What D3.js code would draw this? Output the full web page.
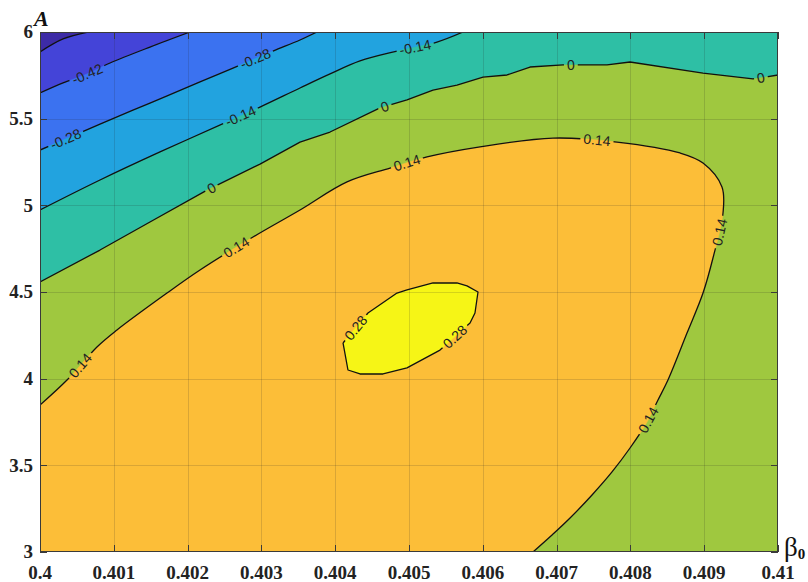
<!DOCTYPE html>
<html>
<head>
<meta charset="utf-8">
<script src="https://cdn.jsdelivr.net/npm/d3@7/dist/d3.min.js"></script>
<style>
  body { margin: 0; background: #fff; }
  svg { display: block; }
</style>
</head>
<body>
<svg id="chart" width="808" height="582"></svg>
<script>
// Axis ticks
const xTicks = [0.4, 0.401, 0.402, 0.403, 0.404, 0.405, 0.406, 0.407, 0.408, 0.409, 0.41];
const xTickLabels = ["0.4", "0.401", "0.402", "0.403", "0.404", "0.405", "0.406", "0.407", "0.408", "0.409", "0.41"];
const yTicks = [3, 3.5, 4, 4.5, 5, 5.5, 6];
const yTickLabels = ["3", "3.5", "4", "4.5", "5", "5.5", "6"];

// Contour levels and the fill of each band (lowest band first)
const levels = [-0.56, -0.42, -0.28, -0.14, 0, 0.14, 0.28];
const bandColors = ["#3d2ba6", "#4444d8", "#3b72f0", "#22a3df", "#2ebfa5", "#9fc83f", "#fcbe38", "#f6f516"];

// Iso-lines, [beta0, A] pairs
const isoM056 = [[0.4, 5.885], [0.400312, 5.960], [0.40065, 6]];
const isoM042 = [[0.4, 5.648], [0.400312, 5.706], [0.400637, 5.758], [0.400949, 5.821], [0.40149, 5.913], [0.402033, 6]];
const isoM028 = [[0.4, 5.319], [0.400407, 5.394], [0.400813, 5.469], [0.40149, 5.590], [0.402168, 5.712],
                 [0.402615, 5.792], [0.403157, 5.890], [0.403523, 5.954], [0.403753, 6]];
const isoM014 = [[0.4, 4.973], [0.400813, 5.146], [0.401626, 5.308], [0.402534, 5.481], [0.402981, 5.567],
                 [0.403523, 5.677], [0.40393, 5.758], [0.404336, 5.833], [0.404837, 5.890], [0.405379, 5.942], [0.405732, 6]];
const iso000 = [[0.4, 4.558], [0.400813, 4.742], [0.40149, 4.904], [0.402263, 5.088], [0.402981, 5.238],
                [0.403523, 5.365], [0.40393, 5.423], [0.404607, 5.562], [0.404973, 5.608], [0.405325, 5.665],
                [0.40565, 5.694], [0.406003, 5.740], [0.406328, 5.752], [0.40664, 5.798], [0.407087, 5.810],
                [0.407683, 5.810], [0.407995, 5.827], [0.408984, 5.763], [0.409661, 5.729], [0.41, 5.752]];
const iso014 = [[0.4, 3.848], [0.400366, 3.992], [0.400772, 4.183], [0.401043, 4.281], [0.401721, 4.494],
                [0.402168, 4.627], [0.402886, 4.817], [0.403523, 4.973], [0.40416, 5.135], [0.404743, 5.215],
                [0.405244, 5.279], [0.405962, 5.337], [0.406951, 5.388], [0.407818, 5.365], [0.408672, 5.302],
                [0.408984, 5.244], [0.409241, 5.106], [0.409255, 4.956], [0.409119, 4.696], [0.408984, 4.494],
                [0.408767, 4.263], [0.408509, 3.992], [0.408374, 3.877], [0.408211, 3.739], [0.407995, 3.600],
                [0.407751, 3.462], [0.40748, 3.329], [0.407182, 3.196], [0.406938, 3.098], [0.40668, 3]];
const iso028 = [[0.404106, 4.206], [0.404173, 4.050], [0.404336, 4.027], [0.404648, 4.027], [0.404973, 4.062],
                [0.40542, 4.165], [0.405827, 4.321], [0.405894, 4.379], [0.405935, 4.500], [0.405786, 4.535],
                [0.40565, 4.552], [0.405325, 4.552], [0.404973, 4.512], [0.404837, 4.494], [0.404444, 4.379],
                [0.404106, 4.206]];

// Inline labels: which line and roughly where
const labelSpots = [
  { level: -0.42, at: [0.400637, 5.758] },
  { level: -0.28, at: [0.400298, 5.435] },
  { level: -0.28, at: [0.402913, 5.850] },
  { level: -0.14, at: [0.40271, 5.521] },
  { level: -0.14, at: [0.405081, 5.913] },
  { level: 0, at: [0.402304, 5.117] },
  { level: 0, at: [0.404675, 5.567] },
  { level: 0, at: [0.407195, 5.804] },
  { level: 0, at: [0.40977, 5.729] },
  { level: 0.14, at: [0.400542, 4.079] },
  { level: 0.14, at: [0.402669, 4.754] },
  { level: 0.14, at: [0.404973, 5.244] },
  { level: 0.14, at: [0.407547, 5.365] },
  { level: 0.14, at: [0.409214, 4.846] },
  { level: 0.14, at: [0.408238, 3.762] },
  { level: 0.28, at: [0.404282, 4.292] },
  { level: 0.28, at: [0.405637, 4.235] }
];

const xDomain = [0.4, 0.41];
const yDomain = [3, 6];

// Each line with the domain corners that close its upper (higher-valued) side
const contours = [
  { level: -0.56, pts: isoM056, close: [[0.41, 6], [0.41, 3], [0.4, 3]], smooth: true },
  { level: -0.42, pts: isoM042, close: [[0.41, 6], [0.41, 3], [0.4, 3]], smooth: true },
  { level: -0.28, pts: isoM028, close: [[0.41, 6], [0.41, 3], [0.4, 3]], smooth: true },
  { level: -0.14, pts: isoM014, close: [[0.41, 6], [0.41, 3], [0.4, 3]], smooth: true },
  { level: 0, pts: iso000, close: [[0.41, 3], [0.4, 3]], smooth: false },
  { level: 0.14, pts: iso014, close: [[0.4, 3]], smooth: true },
  { level: 0.28, pts: iso028, close: [], smooth: false }
];

const W = 808, H = 582;
const M = { left: 40, right: 30, top: 32, bottom: 30 };
const svg = d3.select("#chart");

const x = d3.scaleLinear().domain(xDomain).range([M.left, W - M.right]);
const y = d3.scaleLinear().domain(yDomain).range([H - M.bottom, M.top]);
const x0 = x.range()[0], x1 = x.range()[1], yb = y.range()[0], yt = y.range()[1];

const lineStraight = d3.line().x(d => x(d[0])).y(d => y(d[1]));
const lineSmooth = d3.line().x(d => x(d[0])).y(d => y(d[1])).curve(d3.curveCatmullRom.alpha(0.5));
const isoPath = c => (c.smooth ? lineSmooth : lineStraight)(c.pts);
const bandPath = c => isoPath(c) + c.close.map(d => `L${x(d[0])},${y(d[1])}`).join("") + "Z";

const defs = svg.append("defs");
defs.append("clipPath").attr("id", "plotClip")
  .append("rect").attr("x", x0).attr("y", yt).attr("width", x1 - x0).attr("height", yb - yt);

const plot = svg.append("g").attr("clip-path", "url(#plotClip)");

// Lowest band covers the whole plot, then each higher band is painted on top
plot.append("rect")
  .attr("x", x0).attr("y", yt).attr("width", x1 - x0).attr("height", yb - yt)
  .attr("fill", bandColors[0]);

contours.forEach((c, i) => {
  plot.append("path")
    .attr("d", bandPath(c))
    .attr("fill", bandColors[i + 1])
    .attr("stroke", bandColors[i + 1])
    .attr("stroke-width", 0.5);
});

// Grid
const grid = plot.append("g").attr("stroke", "#262626").attr("stroke-opacity", 0.16).attr("stroke-width", 1);
xTicks.forEach(t => grid.append("line")
  .attr("x1", Math.round(x(t)) + 0.5).attr("x2", Math.round(x(t)) + 0.5).attr("y1", yt).attr("y2", yb));
yTicks.forEach(t => grid.append("line")
  .attr("y1", Math.round(y(t)) + 0.5).attr("y2", Math.round(y(t)) + 0.5).attr("x1", x0).attr("x2", x1));

// Contour lines, with gaps cut out where labels sit
const mask = defs.append("mask").attr("id", "labelGaps").attr("maskUnits", "userSpaceOnUse")
  .attr("x", 0).attr("y", 0).attr("width", W).attr("height", H);
mask.append("rect").attr("x", 0).attr("y", 0).attr("width", W).attr("height", H).attr("fill", "#fff");

const linesG = plot.append("g").attr("mask", "url(#labelGaps)");
const pathNodes = {};
contours.forEach(c => {
  const p = linesG.append("path")
    .attr("d", isoPath(c))
    .attr("fill", "none")
    .attr("stroke", "#111")
    .attr("stroke-width", 1.3)
    .attr("stroke-linejoin", "round");
  pathNodes[c.level] = p.node();
});

const fmt = v => (v === 0 ? "0" : String(v));
const labelsG = plot.append("g")
  .attr("font-family", "'Liberation Sans', Arial, Helvetica, sans-serif")
  .attr("font-size", 14)
  .attr("fill", "#222");

labelSpots.forEach(s => {
  const node = pathNodes[s.level];
  const total = node.getTotalLength();
  const tx = x(s.at[0]), ty = y(s.at[1]);
  let best = 0, bestD = Infinity;
  for (let L = 0; L <= total; L += 0.5) {
    const p = node.getPointAtLength(L);
    const d = (p.x - tx) ** 2 + (p.y - ty) ** 2;
    if (d < bestD) { bestD = d; best = L; }
  }
  const p = node.getPointAtLength(best);
  const a = node.getPointAtLength(Math.max(0, best - 6));
  const b = node.getPointAtLength(Math.min(total, best + 6));
  let ang = Math.atan2(b.y - a.y, b.x - a.x) * 180 / Math.PI;
  if (ang > 90) ang -= 180;
  if (ang <= -90) ang += 180;
  const txt = labelsG.append("text")
    .attr("transform", `translate(${p.x},${p.y}) rotate(${ang})`)
    .attr("text-anchor", "middle")
    .attr("dy", "0.36em")
    .text(fmt(s.level));
  const w = txt.node().getComputedTextLength();
  mask.append("rect")
    .attr("x", -w / 2 - 3).attr("y", -6).attr("width", w + 6).attr("height", 12)
    .attr("transform", `translate(${p.x},${p.y}) rotate(${ang})`)
    .attr("fill", "#000");
});

// Axes box and inward ticks
const axisColor = "#3a3a3a";
const frame = svg.append("g").attr("stroke", axisColor).attr("stroke-width", 1).attr("fill", "none");
frame.append("rect").attr("x", x0 + 0.5).attr("y", yt + 0.5).attr("width", x1 - x0 - 1).attr("height", yb - yt - 1);
const tl = 7;
xTicks.forEach(t => {
  const px = Math.round(x(t)) + 0.5;
  frame.append("line").attr("x1", px).attr("x2", px).attr("y1", yb).attr("y2", yb - tl);
  frame.append("line").attr("x1", px).attr("x2", px).attr("y1", yt).attr("y2", yt + tl);
});
yTicks.forEach(t => {
  const py = Math.round(y(t)) + 0.5;
  frame.append("line").attr("y1", py).attr("y2", py).attr("x1", x0).attr("x2", x0 + tl);
  frame.append("line").attr("y1", py).attr("y2", py).attr("x1", x1).attr("x2", x1 - tl);
});

// Tick labels
const tickFont = "'Liberation Serif', 'Times New Roman', serif";
const xLab = svg.append("g").attr("font-family", tickFont).attr("font-weight", "bold")
  .attr("font-size", 19).attr("fill", "#222").attr("text-anchor", "middle");
xTicks.forEach((t, i) => xLab.append("text").attr("x", x(t)).attr("y", 579).text(xTickLabels[i]));

const yLab = svg.append("g").attr("font-family", tickFont).attr("font-weight", "bold")
  .attr("font-size", 19).attr("fill", "#222").attr("text-anchor", "end");
yTicks.forEach((t, i) => yLab.append("text").attr("x", 33).attr("y", y(t)).attr("dy", "0.34em").text(yTickLabels[i]));

// Axis titles
svg.append("text")
  .attr("x", 34).attr("y", 26)
  .attr("font-family", tickFont).attr("font-weight", "bold").attr("font-style", "italic")
  .attr("font-size", 22).attr("fill", "#111")
  .text("A");

const bt = svg.append("text")
  .attr("x", 784).attr("y", 556)
  .attr("font-family", tickFont).attr("font-size", 27).attr("fill", "#111");
bt.append("tspan").text("β");
bt.append("tspan").attr("font-size", 15).attr("font-weight", "bold").attr("dy", 3).text("0");
</script>
</body>
</html>
